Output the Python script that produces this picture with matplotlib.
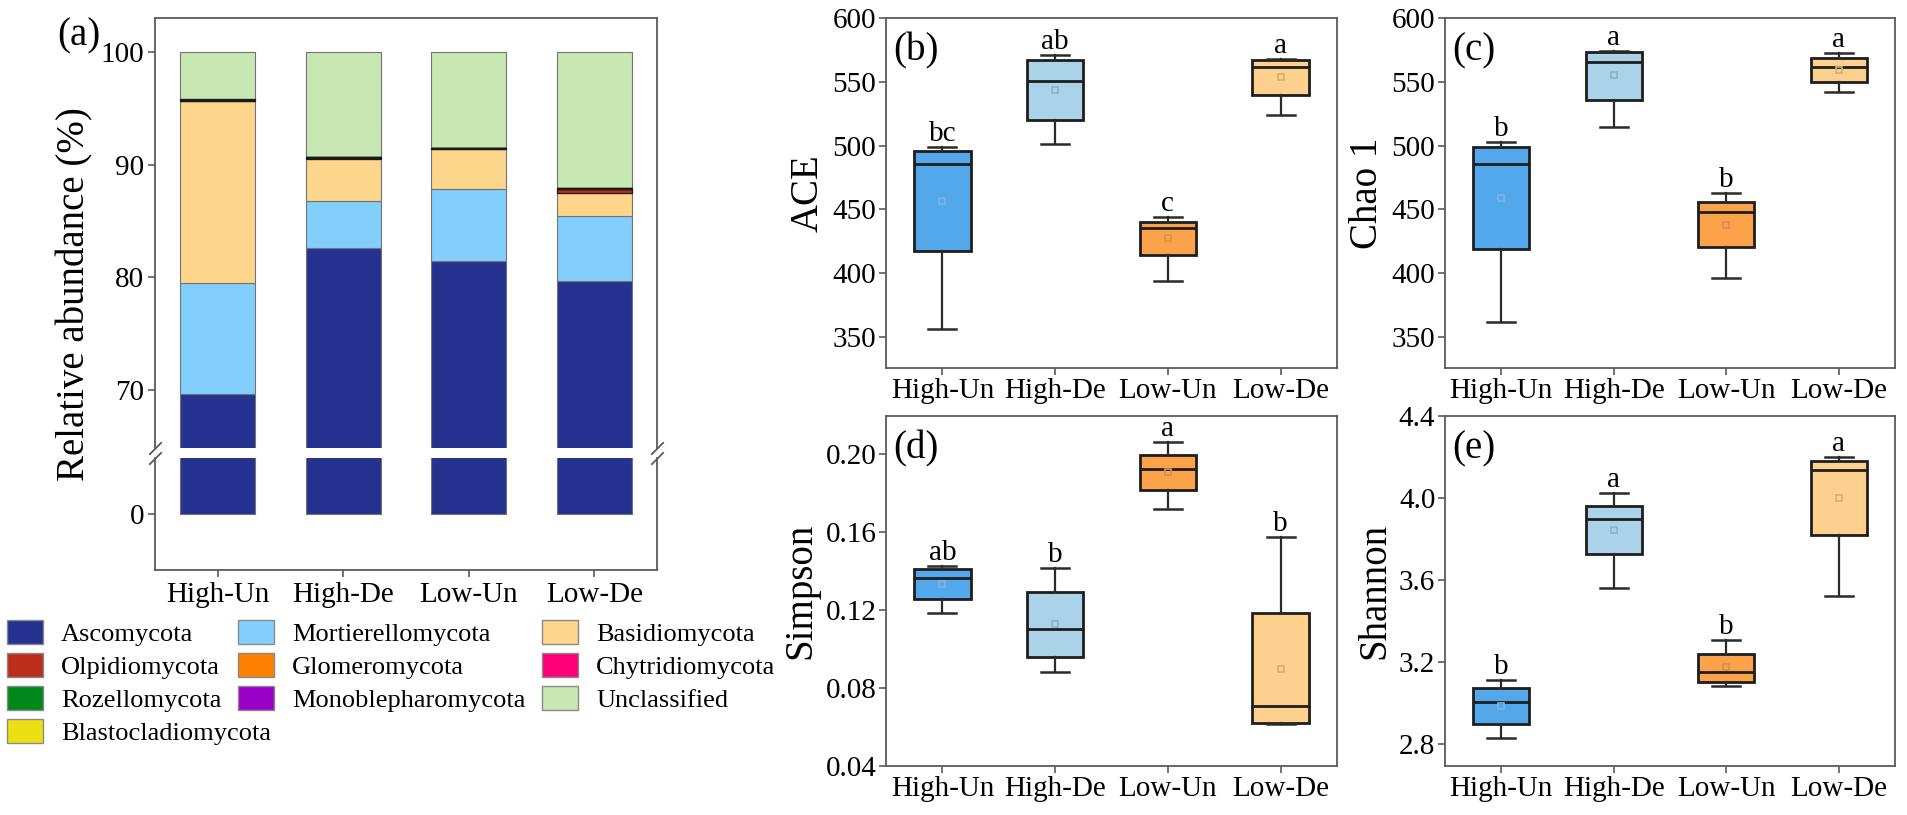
import matplotlib
matplotlib.use('Agg')
import matplotlib.pyplot as plt
from matplotlib.patches import Patch
from matplotlib.ticker import FormatStrFormatter
import numpy as np

plt.rcParams['font.family'] = ['Liberation Serif', 'DejaVu Serif']

# ---------------- data ----------------
groups = ['High-Un', 'High-De', 'Low-Un', 'Low-De']

# relative abundance (%) stacked bottom -> top
ascomycota = [69.6, 82.6, 81.4, 79.7]
mortierellomycota = [9.9, 4.2, 6.4, 5.7]
basidiomycota = [16.1, 3.7, 3.55, 2.1]
olpidiomycota = [0.05, 0.05, 0.06, 0.30]
glomeromycota = [0.06, 0.06, 0.05, 0.05]
chytridiomycota = [0.02, 0.02, 0.02, 0.02]
rozellomycota = [0.02, 0.01, 0.01, 0.02]
monoblepharomycota = [0.01, 0.01, 0.01, 0.01]
blastocladiomycota = [0.01, 0.01, 0.01, 0.01]
unclassified = [4.23, 9.34, 8.49, 12.09]

stack_names = ['Ascomycota', 'Mortierellomycota', 'Basidiomycota', 'Olpidiomycota',
               'Glomeromycota', 'Chytridiomycota', 'Rozellomycota',
               'Monoblepharomycota', 'Blastocladiomycota', 'Unclassified']
stack_values = [ascomycota, mortierellomycota, basidiomycota, olpidiomycota,
                glomeromycota, chytridiomycota, rozellomycota,
                monoblepharomycota, blastocladiomycota, unclassified]
minor_phyla = ['Olpidiomycota', 'Glomeromycota', 'Chytridiomycota', 'Rozellomycota',
               'Monoblepharomycota', 'Blastocladiomycota']

phylum_colors = {
    'Ascomycota': '#263290',
    'Olpidiomycota': '#BC2D1C',
    'Rozellomycota': '#00891A',
    'Blastocladiomycota': '#EDE012',
    'Mortierellomycota': '#82CFFD',
    'Glomeromycota': '#FF7F00',
    'Monoblepharomycota': '#9A00C8',
    'Basidiomycota': '#FDD58B',
    'Chytridiomycota': '#FF0078',
    'Unclassified': '#C7E8B3',
}
legend_columns = [
    ['Ascomycota', 'Olpidiomycota', 'Rozellomycota', 'Blastocladiomycota'],
    ['Mortierellomycota', 'Glomeromycota', 'Monoblepharomycota'],
    ['Basidiomycota', 'Chytridiomycota', 'Unclassified'],
]

# box-plot summaries: [whisker low, Q1, median, Q3, whisker high, mean]
ace_stats = [
    [356.5, 417.5, 485.6, 496.1, 499.2, 456.5],
    [501.0, 520.2, 551.0, 567.3, 571.2, 543.7],
    [393.7, 414.5, 435.1, 440.3, 444.2, 427.5],
    [524.1, 539.8, 561.5, 567.3, 568.0, 553.7],
]
ace_letters = ['bc', 'ab', 'c', 'a']

chao_stats = [
    [361.7, 419.0, 485.4, 499.0, 502.9, 458.9],
    [514.6, 535.7, 565.4, 573.2, 574.0, 555.0],
    [396.1, 420.3, 447.7, 456.0, 462.5, 438.0],
    [542.2, 550.0, 561.5, 568.8, 572.7, 559.1],
]
chao_letters = ['b', 'a', 'b', 'a']

simpson_stats = [
    [0.1186, 0.1255, 0.1363, 0.1409, 0.1426, 0.1332],
    [0.0883, 0.0958, 0.1101, 0.1291, 0.1418, 0.1126],
    [0.1719, 0.1817, 0.1923, 0.1997, 0.2060, 0.1906],
    [0.0614, 0.0618, 0.0708, 0.1183, 0.1574, 0.0897],
]
simpson_letters = ['ab', 'b', 'a', 'b']

shannon_stats = [
    [2.832, 2.900, 3.005, 3.077, 3.113, 2.989],
    [3.561, 3.729, 3.900, 3.960, 4.024, 3.844],
    [3.083, 3.105, 3.155, 3.239, 3.311, 3.177],
    [3.524, 3.819, 4.137, 4.179, 4.202, 4.000],
]
shannon_letters = ['b', 'a', 'b', 'a']

box_colors = ['#52A8EA', '#AAD3EA', '#FCA24A', '#FED08E']
mean_colors = ['#7FB4DE', '#8CB3CC', '#D8904E', '#D9AE70']

# ---------------- figure ----------------
W, H = 1907, 815
fig = plt.figure(figsize=(W / 100, H / 100), dpi=100)


def rect(left, top, right, bottom):
    return [left / W, 1 - bottom / H, (right - left) / W, (bottom - top) / H]


SPINE = '#5A5A5A'
TICK_FS = 21
LABEL_FS = 28

# ---- panel (a): broken-axis stacked bar ----
ax_up = fig.add_axes(rect(155, 18, 657, 448))
ax_lo = fig.add_axes(rect(155, 458, 657, 570))
x = np.arange(len(groups))
for ax in (ax_up, ax_lo):
    bottom = np.zeros(len(groups))
    for name, vals in zip(stack_names, stack_values):
        vals = np.array(vals)
        minor = name in minor_phyla
        ax.bar(x, vals, bottom=bottom, width=0.6, color=phylum_colors[name],
               edgecolor='#1A1A1A' if minor else '#737373',
               linewidth=0.9 if minor else 0.8, zorder=3 if minor else 2)
        bottom = bottom + vals
    ax.set_xlim(-0.5, 3.5)
    for s in ax.spines.values():
        s.set_color(SPINE)
        s.set_linewidth(1.3)
    ax.tick_params(direction='out', length=5, width=1.2, color=SPINE,
                   labelsize=TICK_FS, pad=3)

ax_up.set_ylim(64.85, 103.0)
ax_up.set_yticks([70, 80, 90, 100])
ax_up.spines['bottom'].set_visible(False)
ax_up.tick_params(axis='x', bottom=False, labelbottom=False)

ax_lo.set_ylim(-4.97, 4.97)
ax_lo.set_yticks([0])
ax_lo.spines['top'].set_visible(False)
ax_lo.set_xticks(x)
ax_lo.set_xticklabels(groups)
ax_lo.tick_params(axis='x', pad=4)

# break marks
bk = dict(marker=[(-1, -1), (1, 1)], markersize=9, linestyle='none',
          color=SPINE, mec=SPINE, mew=1.3, clip_on=False)
ax_up.plot([0, 1], [0, 0], transform=ax_up.transAxes, **bk)
ax_lo.plot([0, 1], [1, 1], transform=ax_lo.transAxes, **bk)

fig.text(75 / W, 1 - 294 / H, 'Relative abundance (%)', rotation=90,
         fontsize=LABEL_FS, ha='center', va='center')
fig.text(57 / W, 1 - 36 / H, '(a)', fontsize=LABEL_FS, ha='left', va='center')

# legend (three single-column legends, like the reference)
col_x = [7, 238, 542]
for cx, names in zip(col_x, legend_columns):
    handles = [Patch(facecolor=phylum_colors[n], edgecolor='#8A8A8A', linewidth=1.0)
               for n in names]
    fig.legend(handles, names, loc='upper left',
               bbox_to_anchor=(cx / W, 1 - 620 / H), bbox_transform=fig.transFigure,
               frameon=False, borderpad=0, borderaxespad=0, fontsize=19,
               handlelength=1.35, handleheight=1.05, handletextpad=0.7,
               labelspacing=0.25)


# ---- box-plot panels ----
def box_panel(axrect, stats, letters, ylabel, ylim, yticks, fmt, tag):
    ax = fig.add_axes(axrect)
    bxp = []
    for st in stats:
        bxp.append(dict(whislo=st[0], q1=st[1], med=st[2], q3=st[3],
                        whishi=st[4], mean=st[5], fliers=[]))
    art = ax.bxp(bxp, positions=range(len(groups)), widths=0.5, patch_artist=True,
                 showmeans=False, showfliers=False, capwidths=0.25,
                 boxprops=dict(edgecolor='#1E1E1E', linewidth=2.0),
                 whiskerprops=dict(color='#2A2A2A', linewidth=1.6),
                 capprops=dict(color='#2A2A2A', linewidth=1.8),
                 medianprops=dict(color='#1E1E1E', linewidth=2.0))
    for patch, c in zip(art['boxes'], box_colors):
        patch.set_facecolor(c)
    means = [st[5] for st in stats]
    for i, (m, mc) in enumerate(zip(means, mean_colors)):
        ax.plot([i], [m], marker='s', ms=4.5, mfc='none', mec=mc, mew=1.2, zorder=5)
    ax.set_xlim(-0.5, 3.5)
    ax.set_ylim(*ylim)
    ax.set_yticks(yticks)
    ax.yaxis.set_major_formatter(FormatStrFormatter(fmt))
    ax.set_xticks(range(len(groups)))
    ax.set_xticklabels(groups)
    rng = ylim[1] - ylim[0]
    for i, (st, lt) in enumerate(zip(stats, letters)):
        ax.text(i, st[4] + 0.017 * rng, lt, ha='center', va='baseline',
                fontsize=TICK_FS)
    for s in ax.spines.values():
        s.set_color(SPINE)
        s.set_linewidth(1.3)
    ax.tick_params(direction='out', length=5, width=1.2, color=SPINE,
                   labelsize=TICK_FS, pad=2)
    ax.set_ylabel(ylabel, fontsize=LABEL_FS, labelpad=4)
    ax.text(0.015, 0.905, tag, transform=ax.transAxes, fontsize=LABEL_FS,
            ha='left', va='center')
    return ax


box_panel(rect(886, 18, 1337, 368), ace_stats, ace_letters, 'ACE',
          (325.7, 600), [350, 400, 450, 500, 550, 600], '%d', '(b)')
box_panel(rect(1445, 18, 1895, 368), chao_stats, chao_letters, 'Chao 1',
          (325.7, 600), [350, 400, 450, 500, 550, 600], '%d', '(c)')
box_panel(rect(886, 416, 1337, 766), simpson_stats, simpson_letters, 'Simpson',
          (0.04, 0.2195), [0.04, 0.08, 0.12, 0.16, 0.20], '%.2f', '(d)')
box_panel(rect(1445, 416, 1895, 766), shannon_stats, shannon_letters, 'Shannon',
          (2.695, 4.4), [2.8, 3.2, 3.6, 4.0, 4.4], '%.1f', '(e)')

fig.savefig('out.png', dpi=100, facecolor='white')
